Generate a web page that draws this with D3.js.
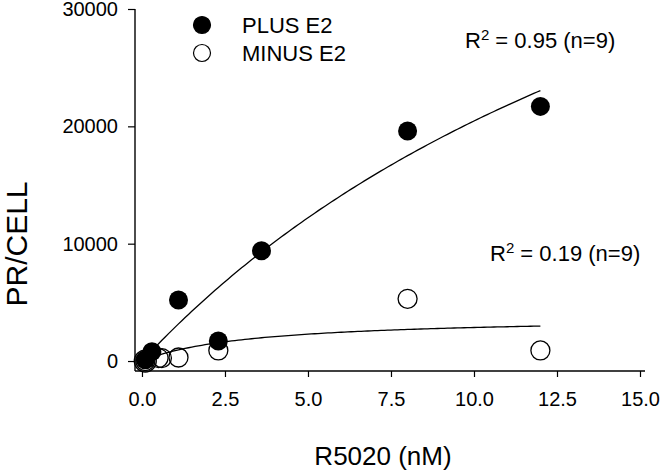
<!DOCTYPE html>
<html>
<head>
<meta charset="utf-8">
<script src="https://cdn.jsdelivr.net/npm/d3@7"></script>
<style>
  body { margin: 0; background: #fff; }
  svg { display: block; }
</style>
</head>
<body>
<div id="chart"></div>
<script>
// data
var plusX = [0.1, 0.3, 1.1, 2.3, 3.6, 8.0, 12.0];
var plusY = [100, 800, 5200, 1700, 9400, 19600, 21700];
var minusX = [0.1, 0.5, 0.6, 1.1, 2.3, 8.0, 12.0];
var minusY = [0, 250, 250, 300, 900, 5300, 900];

// hyperbolic fits (Bmax, Kd) drawn from 0.1 to 12
var plusFit = [63000, 20.8];
var minusFit = [3800, 3.3];
var fitRange = [0.1, 12];

var xTicks = [0, 2.5, 5, 7.5, 10, 12.5, 15];
var yTicks = [0, 10000, 20000, 30000];
var legendLabels = ['PLUS E2', 'MINUS E2'];
var r2Labels = [['0.95', '9'], ['0.19', '9']];

var attrs = {
  width: 660,
  height: 472,
  font: 'Liberation Sans, Arial, Helvetica, sans-serif',
  left: 135,
  right: 640,
  axisEnd: 645,
  top: 9,
  bottom: 371,
  radius: 9.5
};

var svg = d3.select('#chart').append('svg')
  .attr('width', attrs.width)
  .attr('height', attrs.height)
  .attr('font-family', attrs.font);

var x = d3.scaleLinear().domain([-0.21, 15]).range([attrs.left, attrs.right]);
var y = d3.scaleLinear().domain([-850, 30000]).range([attrs.bottom, attrs.top]);

// axes
var xAxis = svg.append('g')
  .attr('transform', 'translate(0,' + attrs.bottom + ')')
  .call(d3.axisBottom(x).tickValues(xTicks).tickFormat(d3.format('.1f')).tickSizeOuter(0).tickSize(6).tickPadding(15));
var yAxis = svg.append('g')
  .attr('transform', 'translate(' + attrs.left + ',0)')
  .call(d3.axisLeft(y).tickValues(yTicks).tickFormat(d3.format('d')).tickSizeOuter(0).tickSize(7).tickPadding(10));

[xAxis, yAxis].forEach(function (g) {
  g.select('.domain').attr('stroke', '#000').attr('stroke-width', 1.4);
  g.selectAll('.tick line').attr('stroke', '#000').attr('stroke-width', 1.2);
  g.selectAll('.tick text').attr('font-size', 20).attr('fill', '#000').attr('font-family', attrs.font);
});
// y axis reaches down to the x axis
yAxis.select('.domain').attr('d', 'M0,' + attrs.top + 'V' + attrs.bottom);
xAxis.select('.domain').attr('d', 'M' + attrs.left + ',0H' + attrs.axisEnd);

// titles
svg.append('text')
  .attr('x', 383).attr('y', 465)
  .attr('text-anchor', 'middle')
  .attr('font-size', 26)
  .text('R5020 (nM)');

svg.append('text')
  .attr('transform', 'translate(27,244) rotate(-90)')
  .attr('text-anchor', 'middle')
  .attr('font-size', 30)
  .text('PR/CELL');

// fit curves
var line = d3.line().x(function (d) { return x(d[0]); }).y(function (d) { return y(d[1]); });
[plusFit, minusFit].forEach(function (p) {
  var pts = d3.range(fitRange[0], fitRange[1] + 0.001, 0.1).map(function (v) {
    return [v, p[0] * v / (p[1] + v)];
  });
  svg.append('path')
    .datum(pts)
    .attr('d', line)
    .attr('fill', 'none')
    .attr('stroke', '#000')
    .attr('stroke-width', 1.3);
});

// points
var minus = minusX.map(function (v, i) { return [v, minusY[i]]; });
var plus = plusX.map(function (v, i) { return [v, plusY[i]]; });

svg.append('g').selectAll('circle')
  .data(minus)
  .enter().append('circle')
  .attr('cx', function (d) { return x(d[0]); })
  .attr('cy', function (d) { return y(d[1]); })
  .attr('r', attrs.radius)
  .attr('fill', 'none')
  .attr('stroke', '#000')
  .attr('stroke-width', 1.3);

svg.append('g').selectAll('circle')
  .data(plus)
  .enter().append('circle')
  .attr('cx', function (d) { return x(d[0]); })
  .attr('cy', function (d) { return y(d[1]); })
  .attr('r', attrs.radius)
  .attr('fill', '#000');

// open circle around the first filled point
svg.append('circle')
  .attr('cx', x(minus[0][0])).attr('cy', y(minus[0][1]))
  .attr('r', attrs.radius + 1.5)
  .attr('fill', 'none')
  .attr('stroke', '#000')
  .attr('stroke-width', 1.3);

// legend
var legend = svg.append('g').attr('transform', 'translate(202,25)');
legendLabels.forEach(function (label, i) {
  var g = legend.append('g').attr('transform', 'translate(0,' + (i * 28) + ')');
  g.append('circle')
    .attr('r', 8.5)
    .attr('fill', i === 0 ? '#000' : '#fff')
    .attr('stroke', '#000')
    .attr('stroke-width', 1.2);
  g.append('text')
    .attr('x', 40).attr('y', 8)
    .attr('font-size', 22)
    .text(label);
});

// R^2 labels
var r2Pos = [[465, 48], [490, 261]];
r2Labels.forEach(function (l, i) {
  var t = svg.append('text')
    .attr('x', r2Pos[i][0]).attr('y', r2Pos[i][1])
    .attr('font-size', 22);
  t.append('tspan').text('R');
  t.append('tspan').attr('font-size', 15).attr('dy', -8).text('2');
  t.append('tspan').attr('dy', 8).text(' = ' + l[0] + ' (n=' + l[1] + ')');
});
</script>
</body>
</html>
